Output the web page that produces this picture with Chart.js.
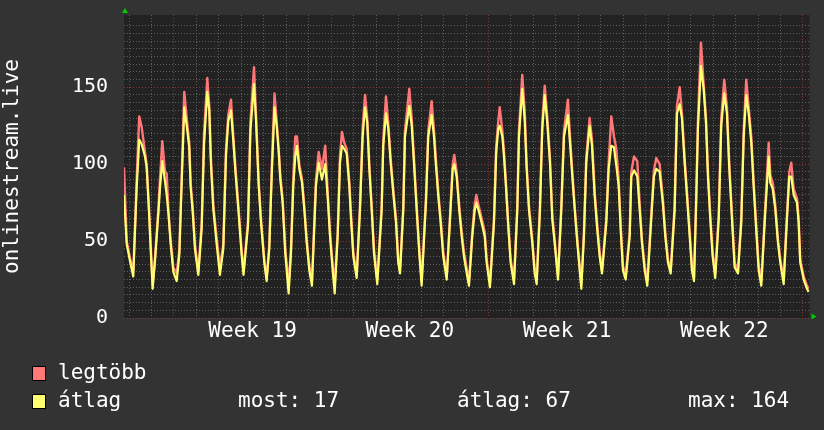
<!DOCTYPE html>
<html>
<head>
<meta charset="utf-8">
<script src="https://cdn.jsdelivr.net/npm/chart.js@4.4.1/dist/chart.umd.min.js"></script>
<style>
html, body { margin: 0; padding: 0; background: #333333; }
#wrap { position: relative; width: 824px; height: 430px; overflow: hidden; font-family: "DejaVu Sans Mono", monospace; color: #ffffff; }
canvas { position: absolute; left: 0; top: 0; }
.box { position: absolute; width: 12px; height: 13px; border: 1px solid #000; }
.txt { position: absolute; font-size: 21px; line-height: 21px; white-space: pre; }
</style>
</head>
<body>
<div id="wrap">
<canvas id="c" width="824" height="430"></canvas>
<div id="legend"></div>
</div>
<script>
// hours relative to the start of week 19
const hours = [
  -53.4, -50.5, -47.0, -43.5, -41.5, -39.9, -37.1, -34.5, -31.0, -29.2,
  -26.7, -24.9, -22.8, -20.3, -16.8, -15.0, -12.5, -9.6, -7.8, -6.1,
  -3.5, -0.7, 2.9, 5.7, 8.2, 11.0, 13.6, 16.3, 17.8, 20.0,
  22.4, 26.0, 29.6, 32.1, 35.6, 37.7, 39.5, 42.0, 45.6, 49.1,
  52.7, 55.6, 58.0, 60.9, 63.4, 65.9, 68.7, 72.3, 74.3, 79.1,
  81.7, 85.5, 87.6, 90.5, 93.0, 96.5, 99.0, 101.8, 104.7, 107.4,
  109.7, 111.9, 113.6, 116.1, 118.9, 122.5, 125.0, 127.5, 129.6, 131.4,
  133.9, 136.8, 139.2, 141.8, 144.6, 147.4, 151.7, 154.6, 158.1, 161.6,
  164.2, 166.7, 169.6, 171.7, 174.9, 177.4, 179.5, 181.9, 184.5, 187.3,
  189.1, 191.6, 195.2, 198.7, 201.6, 204.1, 206.5, 208.7, 211.2, 213.7,
  217.2, 221.9, 223.6, 226.5, 229.0, 231.5, 234.3, 237.2, 239.6, 241.5,
  245.0, 246.8, 251.4, 254.0, 256.4, 259.3, 262.1, 264.6, 269.2, 271.7,
  275.3, 277.8, 279.9, 282.4, 284.9, 287.7, 291.4, 294.9, 297.8, 299.5,
  302.0, 304.8, 307.4, 309.8, 313.4, 315.2, 318.7, 321.3, 323.0, 325.9,
  329.4, 332.0, 334.1, 337.6, 341.9, 344.3, 346.5, 348.0, 350.8, 352.6,
  354.4, 357.2, 359.7, 363.3, 366.8, 368.6, 372.1, 374.7, 376.8, 379.3,
  382.8, 385.4, 387.5, 391.0, 393.5, 396.1, 398.8, 401.7, 404.2, 406.7,
  410.3, 413.8, 416.7, 420.9, 423.1, 425.6, 428.1, 430.9, 435.2, 438.0,
  440.5, 444.1, 446.6, 449.5, 452.3, 454.8, 457.3, 461.9, 464.4, 467.2,
  470.1, 472.6, 475.1, 477.3, 479.7, 482.6, 486.9, 488.6, 491.5, 495.0,
  497.6, 500.0, 502.9, 505.7, 509.9, 512.8, 515.3, 518.9, 522.4, 524.9,
  527.8, 530.7, 534.9, 537.4, 540.3, 542.7, 545.6, 548.1, 551.0, 553.4,
  555.6, 557.7, 559.8, 563.0, 565.9, 568.4, 570.5, 573.0, 575.5, 578.3,
  582.0, 584.7, 587.9, 590.8, 593.3, 596.2, 599.0, 602.6, 606.1, 608.7,
  611.4, 614.0, 616.8, 619.3, 622.1, 624.7, 627.5, 631.1, 635.4, 637.1,
  639.7, 642.4, 645.3, 647.8, 651.4, 654.9, 657.4, 659.5, 662.1, 665.6,
  667.4, 669.1, 672.8, 676.3, 678.1
];

// legtöbb (max)
const legtobb = [
  98, 50, 39, 30, 62, 90, 131, 124, 108, 100,
  72, 48, 21, 39, 70, 90, 115, 95, 94, 72,
  50, 33, 29, 44, 92, 147, 130, 114, 88, 72,
  48, 30, 62, 120, 156, 138, 104, 74, 52, 33,
  48, 110, 132, 142, 118, 96, 74, 44, 30, 63,
  128, 163, 133, 89, 64, 38, 26, 47, 102, 146,
  128, 110, 93, 77, 45, 22, 45, 92, 118, 118,
  100, 90, 73, 51, 34, 24, 90, 108, 97, 112,
  82, 56, 34, 22, 56, 106, 121, 114, 110, 89,
  68, 43, 28, 73, 124, 145, 130, 100, 73, 45,
  25, 73, 116, 144, 126, 104, 84, 65, 38, 31,
  73, 122, 149, 130, 104, 73, 45, 24, 78, 122,
  141, 122, 103, 82, 65, 43, 27, 66, 100, 106,
  95, 73, 56, 43, 30, 24, 56, 74, 80, 72,
  63, 56, 38, 23, 65, 112, 128, 137, 122, 108,
  91, 61, 38, 25, 73, 122, 158, 135, 100, 73,
  51, 32, 25, 73, 127, 151, 131, 104, 67, 51,
  27, 73, 122, 142, 118, 95, 73, 51, 22, 56,
  105, 130, 116, 82, 60, 43, 31, 65, 101, 131,
  118, 110, 90, 60, 34, 27, 56, 95, 105, 102,
  74, 51, 34, 24, 67, 96, 104, 100, 77, 56,
  38, 31, 73, 138, 150, 133, 104, 82, 56, 34,
  26, 73, 128, 179, 152, 130, 95, 67, 43, 29,
  67, 130, 155, 137, 100, 67, 36, 31, 65, 122,
  155, 137, 118, 89, 60, 34, 24, 65, 114, 93,
  88, 74, 51, 38, 25, 67, 95, 101, 84, 78,
  65, 38, 27, 21, 19
];

// átlag (average)
const atlag = [
  80, 48, 37, 27, 59, 84, 116, 113, 105, 98,
  69, 45, 19, 37, 67, 84, 102, 89, 80, 69,
  48, 30, 24, 41, 87, 137, 125, 111, 85, 69,
  45, 28, 58, 113, 147, 135, 100, 71, 48, 28,
  45, 106, 128, 135, 115, 93, 71, 41, 28, 60,
  122, 152, 129, 86, 62, 36, 24, 45, 97, 137,
  125, 108, 90, 75, 42, 16, 42, 86, 105, 112,
  97, 88, 71, 49, 31, 21, 86, 101, 90, 100,
  79, 53, 31, 16, 53, 101, 112, 110, 107, 86,
  65, 40, 26, 70, 118, 137, 127, 97, 71, 42,
  22, 70, 112, 133, 123, 101, 81, 62, 36, 29,
  70, 118, 138, 125, 101, 70, 42, 21, 75, 118,
  132, 118, 99, 79, 62, 40, 25, 64, 97, 100,
  92, 70, 53, 40, 27, 21, 53, 70, 75, 69,
  60, 53, 36, 20, 62, 108, 123, 125, 118, 105,
  88, 59, 36, 22, 70, 118, 149, 129, 97, 70,
  49, 29, 22, 70, 123, 145, 127, 101, 64, 49,
  25, 70, 118, 132, 114, 92, 71, 49, 19, 53,
  101, 125, 112, 79, 57, 40, 29, 62, 97, 112,
  111, 99, 86, 57, 31, 25, 53, 92, 96, 92,
  70, 49, 31, 21, 64, 92, 97, 95, 74, 53,
  36, 29, 70, 133, 139, 130, 101, 79, 53, 31,
  24, 70, 123, 164, 149, 127, 92, 64, 40, 26,
  64, 125, 146, 133, 97, 64, 33, 29, 62, 118,
  145, 133, 114, 86, 57, 31, 21, 62, 105, 88,
  84, 71, 49, 36, 22, 64, 92, 92, 80, 75,
  62, 36, 25, 19, 17
];

const weekLabels = ['Week 19', 'Week 20', 'Week 21', 'Week 22'];
const weekCenters = [84, 252, 420, 588];
const yLabels = [0, 50, 100, 150];
const seriesNames = ['legtöbb', 'átlag'];
const statNames = ['most', 'átlag', 'max'];
const statValues = [17, 67, 164];

const xMin = -53.4, xMax = 679;
const RED = '#ff7777', YELLOW = '#ffff70';
const FONT = 'DejaVu Sans Mono';

let xTicks = [];
for (let v = -48; v <= 672; v += 12) xTicks.push(v);

function toPoints(vals) {
    return vals.map((v, i) => ({ x: hours[i], y: v }));
}

const plotBg = {
    id: 'plotBg',
    beforeDraw(chart) {
        const { ctx, chartArea: a } = chart;
        ctx.save();
        ctx.fillStyle = '#222222';
        ctx.fillRect(a.left, a.top, a.right - a.left, a.bottom - a.top);
        ctx.restore();
    },
    afterDraw(chart) {
        const { ctx, chartArea: a } = chart;
        ctx.save();
        ctx.fillStyle = '#00cc00';
        ctx.beginPath();
        ctx.moveTo(a.left + 1, a.top - 7);
        ctx.lineTo(a.left + 4, a.top - 2);
        ctx.lineTo(a.left - 2, a.top - 2);
        ctx.closePath();
        ctx.fill();
        ctx.beginPath();
        ctx.moveTo(a.right + 7, a.bottom - 1.5);
        ctx.lineTo(a.right + 2, a.bottom - 4.5);
        ctx.lineTo(a.right + 2, a.bottom + 1.5);
        ctx.closePath();
        ctx.fill();
        ctx.restore();
    }
};

new Chart(document.getElementById('c'), {
    type: 'line',
    data: {
        datasets: [{
            label: seriesNames[0],
            data: toPoints(legtobb),
            borderColor: RED,
            borderWidth: 2.4,
            order: 2
        }, {
            label: seriesNames[1],
            data: toPoints(atlag),
            borderColor: YELLOW,
            borderWidth: 2.2,
            order: 1
        }]
    },
    options: {
        responsive: false,
        animation: false,
        devicePixelRatio: 1,
        layout: { padding: { left: 0, top: 15, right: 14.5, bottom: 0 } },
        plugins: { legend: { display: false }, tooltip: { enabled: false } },
        elements: { point: { radius: 0 }, line: { tension: 0, fill: false, borderJoinStyle: 'round' } },
        scales: {
            x: {
                type: 'linear',
                min: xMin,
                max: xMax,
                afterFit(s) {
                    s.height = 112;
                    s.paddingLeft = 0;
                    s.paddingRight = 0;
                },
                afterBuildTicks(s) { s.ticks = xTicks.map(v => ({ value: v })); },
                grid: {
                    drawTicks: false,
                    lineWidth: 1,
                    color(c) {
                        const v = c.tick ? c.tick.value : 1;
                        if (v % 168 === 0) return 'rgba(170,60,60,0.75)';
                        if (v % 24 === 0) return 'rgba(120,120,120,0.7)';
                        return 'rgba(0,0,0,0)';
                    }
                },
                border: { display: false, dash: [1, 2] },
                ticks: {
                    autoSkip: false,
                    maxRotation: 0,
                    padding: 1,
                    color: '#ffffff',
                    font: { family: FONT, size: 21 },
                    callback(v) {
                        const i = weekCenters.indexOf(v);
                        return i >= 0 ? weekLabels[i] : '';
                    }
                }
            },
            y: {
                min: 0,
                max: 197,
                afterFit(s) {
                    s.width = 124;
                    s.paddingTop = 0;
                    s.paddingBottom = 0;
                },
                grid: {
                    drawTicks: false,
                    lineWidth: 1,
                    color(c) {
                        const v = c.tick ? c.tick.value : 1;
                        if (v % 50 === 0) return 'rgba(170,60,60,0.75)';
                        if (v % 5 === 0) return 'rgba(120,120,120,0.7)';
                        return 'rgba(0,0,0,0)';
                    }
                },
                border: { display: false, dash: [1, 2] },
                title: {
                    display: true,
                    text: 'onlinestream.live',
                    color: '#ffffff',
                    font: { family: FONT, size: 21 },
                    padding: 0
                },
                ticks: {
                    stepSize: 5,
                    autoSkip: false,
                    padding: 16,
                    color: '#ffffff',
                    font: { family: FONT, size: 20 },
                    callback(v) { return yLabels.includes(v) ? String(v) : ''; }
                }
            }
        }
    },
    plugins: [plotBg]
});

// legend under the plot
const legend = document.getElementById('legend');
function addBox(color, top) {
    let b = document.createElement('div');
    b.className = 'box';
    b.style.background = color;
    b.style.left = '32px';
    b.style.top = top + 'px';
    legend.appendChild(b);
}
function addText(text, left, top) {
    let t = document.createElement('div');
    t.className = 'txt';
    t.textContent = text;
    t.style.left = left + 'px';
    t.style.top = top + 'px';
    legend.appendChild(t);
}
addBox(RED, 366);
addBox(YELLOW, 394);
addText(seriesNames[0], 58, 362);
addText(seriesNames[1], 58, 390);
const statLefts = [238, 457, 688];
statNames.forEach((n, i) => addText(n + ': ' + statValues[i], statLefts[i], 390));
</script>
</body>
</html>
